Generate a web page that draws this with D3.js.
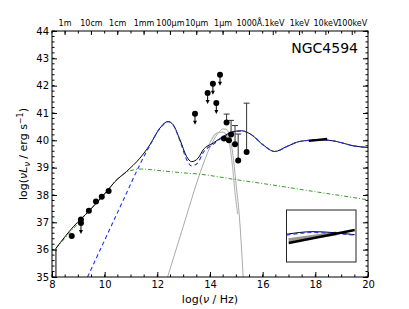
<!DOCTYPE html>
<html>
<head>
<meta charset="utf-8">
<script src="https://cdn.jsdelivr.net/npm/d3@7"></script>
<style>
  body { margin: 0; background: #fff; }
  svg { font-family: 'DejaVu Sans', sans-serif; }
</style>
</head>
<body>
<svg id="chart" width="409" height="309"></svg>
<script>
// total model (black)
const totalX = [8.15, 8.81, 9.44, 10.07, 10.39, 10.83, 11.34, 11.72, 12.10, 12.41, 12.60, 12.86, 13.11, 13.30, 13.55, 13.74, 14.12, 14.50, 14.88, 15.20, 15.58, 16.02, 16.46, 16.91, 17.41, 18.17, 18.80, 19.43, 20.0]
const totalY = [36.05, 36.84, 37.45, 38.12, 38.49, 38.86, 39.35, 39.84, 40.45, 40.69, 40.57, 40.02, 39.41, 39.22, 39.35, 39.65, 39.90, 40.14, 40.32, 40.35, 40.20, 39.83, 39.59, 39.77, 39.96, 40.02, 39.96, 39.80, 39.74]

// AGN model (blue dashed)
const agnX = [9.35, 10.0, 10.71, 11.34, 11.72, 12.10, 12.41, 12.60, 12.86, 13.11, 13.30, 13.55, 13.74, 14.12, 14.50, 14.88, 15.20, 15.58, 16.02, 16.46, 16.91, 17.41, 18.17, 18.80, 19.43, 20.0]
const agnY = [35.0, 36.35, 37.82, 39.12, 39.82, 40.44, 40.68, 40.56, 39.98, 39.30, 39.06, 39.20, 39.55, 39.85, 40.12, 40.30, 40.34, 40.20, 39.83, 39.59, 39.77, 39.96, 40.02, 39.96, 39.80, 39.74]

// jet / synchrotron (green dash-dot)
const jetX = [8.15, 9.44, 10.07, 10.40, 10.77, 11.10, 11.40, 12.00, 12.86, 13.62, 15.00, 16.00, 18.00, 19.81, 20.0]
const jetY = [36.05, 37.45, 38.12, 38.50, 38.80, 38.92, 38.95, 38.90, 38.82, 38.76, 38.56, 38.42, 38.12, 37.85, 37.82]

// host galaxy (grey)
const hostX = [12.39, 13.0, 13.62, 14.0, 14.3, 14.5, 14.65, 14.8, 14.9, 15.0, 15.1, 15.26]
const hostY = [35.0, 36.9, 38.8, 39.75, 40.25, 40.42, 40.38, 39.9, 39.25, 38.3, 37.4, 35.0]
const host2X = [13.9, 14.1, 14.3, 14.5, 14.7, 14.85, 14.95, 15.05]
const host2Y = [39.7, 40.1, 40.28, 40.3, 40.05, 39.1, 38.1, 37.3]

// X-ray power law
const xrayX = [17.75, 18.45]
const xrayY = [39.98, 40.05]

// detections
const detX = [8.75, 9.10, 9.40, 9.67, 9.89, 10.15, 14.53, 14.63, 14.72, 14.80, 14.95, 15.07, 15.39]
const detY = [36.50, 37.10, 37.42, 37.76, 37.94, 38.15, 40.07, 40.65, 40.00, 40.21, 39.86, 39.26, 39.57]
const detHi = [36.50, 37.10, 37.42, 37.76, 37.94, 38.15, 40.07, 40.96, 40.00, 40.73, 40.54, 40.23, 41.36]

// upper limits
const ulX = [9.10, 13.43, 13.91, 14.11, 14.24, 14.38]
const ulY = [36.98, 40.97, 41.73, 42.07, 41.37, 42.40]

// top wavelength axis
const waveLabels = ['1m', '10cm', '1cm', '1mm', '100\u03bcm', '10\u03bcm', '1\u03bcm', '1000\u00c5', '.1keV', '1keV', '10keV', '100keV']
const waveNu = [8.477, 9.477, 10.477, 11.477, 12.477, 13.477, 14.477, 15.477, 16.383, 17.383, 18.383, 19.383]

// inset
const insetModelX = [17.2, 17.81, 18.77]
const insetModelY = [40.02, 40.05, 40.015]
const insetAgnY = [40.01, 40.04, 40.01]
const insetFitX = [17.25, 18.77]
const insetFitY = [39.92, 40.07]
const insetBandX = [17.25, 18.35]
const insetBandY = [39.95, 40.03]

const svg = d3.select('#chart')

const x = d3.scaleLinear().domain([8, 20]).range([52, 368])
const y = d3.scaleLinear().domain([35, 44]).range([277, 31])

svg.append('clipPath').attr('id', 'clip')
    .append('rect')
    .attr('x', x(8)).attr('y', y(44))
    .attr('width', x(20) - x(8)).attr('height', y(35) - y(44))

const plot = svg.append('g').attr('clip-path', 'url(#clip)')

const zip = (xs, ys) => xs.map((d, i) => [d, ys[i]])
const line = d3.line().x(d => x(d[0])).y(d => y(d[1])).curve(d3.curveMonotoneX)
const straight = d3.line().x(d => x(d[0])).y(d => y(d[1]))

// grey host curves
plot.append('path').datum(zip(hostX, hostY))
    .attr('d', line).attr('fill', 'none').attr('stroke', '#aaaaaa').attr('stroke-width', 1)
plot.append('path').datum(zip(host2X, host2Y))
    .attr('d', line).attr('fill', 'none').attr('stroke', '#bbbbbb').attr('stroke-width', 1.2)

// green jet
plot.append('path').datum(zip(jetX, jetY))
    .attr('d', line).attr('fill', 'none').attr('stroke', '#3a9a2a')
    .attr('stroke-width', 1).attr('stroke-dasharray', '4,2,1,2')

// total model + vertical drop at the low end
plot.append('path').datum([[totalX[0], 35], [totalX[0], totalY[0]]])
    .attr('d', straight).attr('fill', 'none').attr('stroke', '#000').attr('stroke-width', 1)
plot.append('path').datum(zip(totalX, totalY))
    .attr('d', line).attr('fill', 'none').attr('stroke', '#000').attr('stroke-width', 1)

// blue AGN
plot.append('path').datum(zip(agnX, agnY))
    .attr('d', line).attr('fill', 'none').attr('stroke', '#2233ee')
    .attr('stroke-width', 1.1).attr('stroke-dasharray', '4,3')

// x-ray powerlaw
plot.append('path').datum(zip(xrayX, xrayY))
    .attr('d', straight).attr('fill', 'none').attr('stroke', '#000').attr('stroke-width', 2.5)

// error bars
const errIdx = detX.map((d, i) => i).filter(i => detHi[i] > detY[i])
plot.selectAll('.err').data(errIdx).join('path')
    .attr('class', 'err')
    .attr('d', i => `M${x(detX[i])},${y(detY[i])}V${y(detHi[i])}M${x(detX[i]) - 3},${y(detHi[i])}h6`)
    .attr('stroke', '#333').attr('stroke-width', 1).attr('fill', 'none')

// detections
plot.selectAll('.det').data(detX).join('circle')
    .attr('class', 'det')
    .attr('cx', d => x(d)).attr('cy', (d, i) => y(detY[i])).attr('r', 3)
    .attr('fill', '#000')

// upper limits
const ul = plot.selectAll('.ul').data(ulX).join('g').attr('class', 'ul')
    .attr('transform', (d, i) => `translate(${x(d)},${y(ulY[i])})`)
ul.append('path').attr('d', 'M0,0V9').attr('stroke', '#000').attr('stroke-width', 1)
ul.append('path').attr('d', 'M-2,7L0,11L2,7Z').attr('fill', '#000')
ul.append('circle').attr('r', 3).attr('fill', '#000')

// inset
const ix = d3.scaleLinear().domain([17.2, 18.8]).range([286.5, 356])
const iy = d3.scaleLinear().domain([39.7, 40.3]).range([262, 210])
const inset = svg.append('g')
inset.append('rect')
    .attr('x', ix.range()[0]).attr('y', iy.range()[1])
    .attr('width', ix.range()[1] - ix.range()[0]).attr('height', iy.range()[0] - iy.range()[1])
    .attr('fill', '#fff').attr('stroke', '#222').attr('stroke-width', 1)
const iline = d3.line().x(d => ix(d[0])).y(d => iy(d[1])).curve(d3.curveMonotoneX)
inset.append('path').datum(zip(insetBandX, insetBandY))
    .attr('d', iline).attr('fill', 'none').attr('stroke', '#999').attr('stroke-width', 4)
inset.append('path').datum(zip(insetModelX, insetModelY))
    .attr('d', iline).attr('fill', 'none').attr('stroke', '#000').attr('stroke-width', 1)
inset.append('path').datum(zip(insetModelX, insetAgnY))
    .attr('d', iline).attr('fill', 'none').attr('stroke', '#2233ee')
    .attr('stroke-width', 1.1).attr('stroke-dasharray', '4,3')
inset.append('path').datum(zip(insetFitX, insetFitY))
    .attr('d', iline).attr('fill', 'none').attr('stroke', '#000').attr('stroke-width', 2.5)

// axes
const fontSize = 10
const xMinor = d3.range(8, 20.01, 0.5)
const yMinor = d3.range(35, 44.01, 0.2)

const xAxis = svg.append('g').attr('transform', `translate(0,${y(35)})`)
    .call(d3.axisBottom(x).tickValues(d3.range(8, 21, 2)).tickSize(-5).tickPadding(4).tickFormat(d3.format('d')))
xAxis.append('g').selectAll('line').data(xMinor).join('line')
    .attr('x1', d => x(d)).attr('x2', d => x(d)).attr('y1', 0).attr('y2', -2.5).attr('stroke', '#000')

const xTop = svg.append('g').attr('transform', `translate(0,${y(44)})`)
    .call(d3.axisTop(x).tickValues(waveNu).tickSize(-4).tickPadding(5).tickFormat((d, i) => waveLabels[i]))
xTop.append('g').selectAll('line').data(xMinor).join('line')
    .attr('x1', d => x(d)).attr('x2', d => x(d)).attr('y1', 0).attr('y2', 2.5).attr('stroke', '#000')

const yAxis = svg.append('g').attr('transform', `translate(${x(8)},0)`)
    .call(d3.axisLeft(y).tickValues(d3.range(35, 45, 1)).tickSize(-5).tickPadding(3).tickFormat(d3.format('d')))
yAxis.append('g').selectAll('line').data(yMinor).join('line')
    .attr('y1', d => y(d)).attr('y2', d => y(d)).attr('x1', 0).attr('x2', 2.5).attr('stroke', '#000')

const yRight = svg.append('g').attr('transform', `translate(${x(20)},0)`)
    .call(d3.axisRight(y).tickValues(d3.range(35, 45, 1)).tickSize(-5).tickFormat(''))
yRight.append('g').selectAll('line').data(yMinor).join('line')
    .attr('y1', d => y(d)).attr('y2', d => y(d)).attr('x1', 0).attr('x2', -2.5).attr('stroke', '#000')

svg.selectAll('.domain').remove()
svg.selectAll('.tick text').attr('fill', '#000').style('font-family', "'DejaVu Sans', sans-serif")
xAxis.selectAll('text').attr('font-size', fontSize)
yAxis.selectAll('text').attr('font-size', fontSize)
xTop.selectAll('text').attr('font-size', 8)

// frame
svg.append('rect')
    .attr('x', x(8)).attr('y', y(44))
    .attr('width', x(20) - x(8)).attr('height', y(35) - y(44))
    .attr('fill', 'none').attr('stroke', '#000').attr('stroke-width', 1)

// labels
svg.append('text')
    .attr('x', 358).attr('y', 53)
    .attr('text-anchor', 'end').attr('font-size', 14)
    .text('NGC4594')

const xl = svg.append('text')
    .attr('x', (x(8) + x(20)) / 2).attr('y', 303)
    .attr('text-anchor', 'middle').attr('font-size', 11)
xl.append('tspan').text('log(')
xl.append('tspan').attr('font-style', 'italic').text('\u03bd')
xl.append('tspan').text(' / Hz)')

const yl = svg.append('text')
    .attr('transform', `translate(27,${(y(35) + y(44)) / 2}) rotate(-90)`)
    .attr('text-anchor', 'middle').attr('font-size', 11)
yl.append('tspan').text('log(')
yl.append('tspan').attr('font-style', 'italic').text('\u03bdL')
yl.append('tspan').attr('font-style', 'italic').attr('font-size', 8).attr('dy', 3).text('\u03bd')
yl.append('tspan').attr('dy', -3).text(' / erg s')
yl.append('tspan').attr('font-size', 8).attr('dy', -4).text('\u22121')
yl.append('tspan').attr('dy', 4).text(')')
</script>
</body>
</html>
